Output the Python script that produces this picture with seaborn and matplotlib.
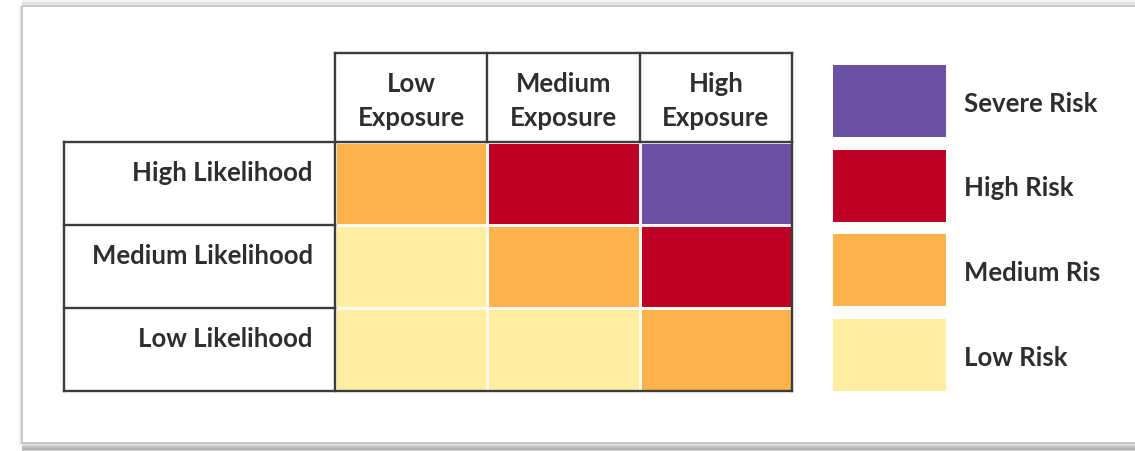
import numpy as np
import pandas as pd
import seaborn as sns
import matplotlib
matplotlib.use("Agg")
import matplotlib.pyplot as plt
from matplotlib.colors import ListedColormap
from matplotlib.patches import Rectangle

# Risk matrix content
exposure_labels = ["Low\nExposure", "Medium\nExposure", "High\nExposure"]
likelihood_labels = ["High Likelihood", "Medium Likelihood", "Low Likelihood"]
risk_levels = ["Low Risk", "Medium Ris", "High Risk", "Severe Risk"]
risk_colors = ["#FFEDA0", "#FEB24C", "#BD0026", "#6A51A3"]
# risk level index per (likelihood row, exposure column)
risk_high_likelihood = [1, 2, 3]
risk_medium_likelihood = [0, 1, 2]
risk_low_likelihood = [0, 0, 1]

sns.set_theme(style="white")
plt.rcParams["font.family"] = ["Lato", "DejaVu Sans"]

W, H = 1135, 451
fig = plt.figure(figsize=(W / 100, H / 100), dpi=100)
fig.patch.set_facecolor("white")

# background canvas in pixel units for the frame and legend
bg = fig.add_axes([0, 0, 1, 1], zorder=0)
bg.set_xlim(0, W)
bg.set_ylim(H, 0)
bg.axis("off")

# card frame with a soft shadow
bg.add_patch(Rectangle((22, 6), 1300, 437, fill=False, edgecolor="#c9c9c9", lw=1.4))
for k, a in enumerate([0.10, 0.18, 0.26, 0.34, 0.40, 0.44, 0.46]):
    bg.plot([22, W], [444 + k, 444 + k], color="#808080", alpha=a, lw=1.2, solid_capstyle="butt")
for k, a in enumerate([0.25, 0.18, 0.12, 0.06]):
    bg.plot([22, W], [4 - k, 4 - k], color="#9a9a9a", alpha=a, lw=1.2, solid_capstyle="butt")
for k, a in enumerate([0.20, 0.10]):
    bg.plot([20 - k, 20 - k], [6, 445], color="#9a9a9a", alpha=a, lw=1.0)

# heatmap grid
df = pd.DataFrame(
    [risk_high_likelihood, risk_medium_likelihood, risk_low_likelihood],
    index=likelihood_labels,
    columns=exposure_labels,
)
x0, x1, y0, y1 = 335, 792, 142, 391
ax = fig.add_axes([x0 / W, 1 - y1 / H, (x1 - x0) / W, (y1 - y0) / H], zorder=2)
sns.heatmap(
    df, ax=ax, cmap=ListedColormap(risk_colors), vmin=-0.5, vmax=3.5,
    cbar=False, linewidths=1.0, linecolor="#fffaf0",
    xticklabels=False, yticklabels=False,
)
ax.set_xlabel("")
ax.set_ylabel("")

col_w = (x1 - x0) / 3
row_h = (y1 - y0) / 3
hdr = (y0 - 53) / row_h
lab = (x0 - 64) / col_w
lc, lw = "#3c3c3c", 1.7
kw = dict(color=lc, lw=lw, clip_on=False, solid_capstyle="projecting")

# header boxes
ax.plot([0, 3], [-hdr, -hdr], **kw)
for c in range(4):
    ax.plot([c, c], [-hdr, 0], **kw)
# table outline and row label boxes
ax.plot([-lab, 3], [0, 0], **kw)
ax.plot([-lab, 3], [3, 3], **kw)
for r in (1, 2):
    ax.plot([-lab, 0], [r, r], **kw)
ax.plot([-lab, -lab], [0, 3], **kw)
ax.plot([0, 0], [0, 3], **kw)
ax.plot([3, 3], [0, 3], **kw)

txt = dict(fontsize=18.5, fontweight="bold", color="#2e2e2e")
for c, name in enumerate(df.columns):
    ax.text(c + 0.5, -hdr / 2 + 0.045, name, ha="center", va="center",
            linespacing=1.5, clip_on=False, **txt)
for r, name in enumerate(df.index):
    ax.text(-(x0 - 313) / col_w, r + 0.37, name, ha="right", va="center",
            clip_on=False, **txt)

# legend swatches, most severe first
for i, level in enumerate(risk_levels[::-1]):
    color = risk_colors[::-1][i]
    top = 65 + i * 84.7
    bg.add_patch(Rectangle((833, top), 113, 72, facecolor=color, edgecolor="none"))
    bg.text(964, top + 38.5, level, ha="left", va="center", **txt)

fig.savefig("out.png", dpi=100)
